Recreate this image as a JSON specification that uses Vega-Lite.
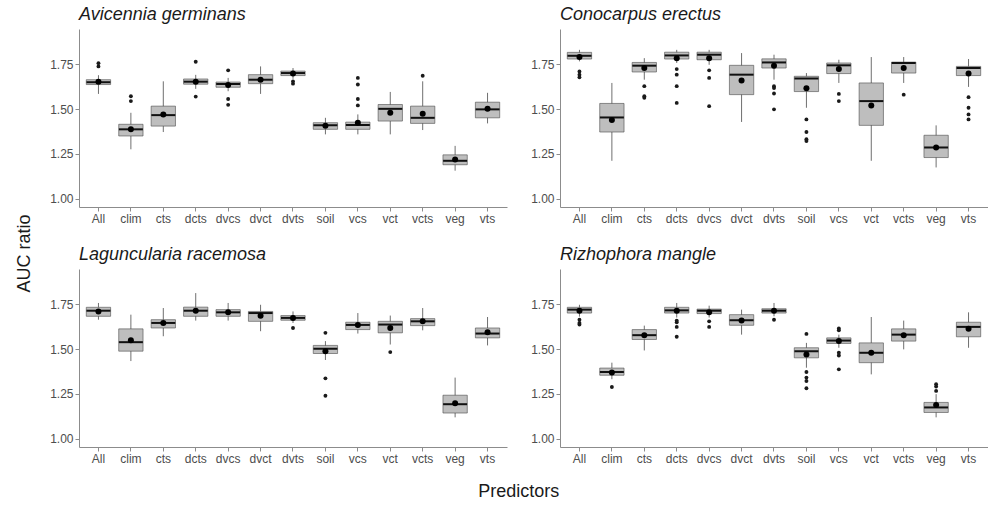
{
  "$schema": "https://vega.github.io/schema/vega-lite/v6.json",
  "background": "white",
  "padding": {"left": 15, "top": 6, "right": 0, "bottom": 0},
  "config": {
    "font": "Liberation Sans",
    "view": {"stroke": null},
    "axis": {
      "grid": false,
      "domainColor": "#8c8c8c",
      "tickColor": "#8c8c8c",
      "labelColor": "#4d4d4d",
      "labelFontSize": 12,
      "labelFont": "Liberation Sans",
      "tickSize": 4,
      "labelPadding": 2,
      "domainWidth": 1
    },
    "header": {
      "labelFont": "Liberation Sans",
      "labelFontSize": 18,
      "labelFontStyle": "italic",
      "labelColor": "#1a1a1a",
      "labelAnchor": "start",
      "labelPadding": 5
    },
    "title": {"font": "Liberation Sans", "fontSize": 18, "fontWeight": "normal", "color": "#1a1a1a"}
  },
  "data": {
    "values": [
      {"sp": "Avicennia germinans", "kind": "box", "pred": "All", "lo": 1.584, "q1": 1.636, "med": 1.649, "q3": 1.663, "hi": 1.688, "mean": 1.652},
      {"sp": "Avicennia germinans", "kind": "box", "pred": "clim", "lo": 1.276, "q1": 1.350, "med": 1.387, "q3": 1.415, "hi": 1.479, "mean": 1.387},
      {"sp": "Avicennia germinans", "kind": "box", "pred": "cts", "lo": 1.372, "q1": 1.405, "med": 1.466, "q3": 1.516, "hi": 1.654, "mean": 1.470},
      {"sp": "Avicennia germinans", "kind": "box", "pred": "dcts", "lo": 1.612, "q1": 1.638, "med": 1.652, "q3": 1.667, "hi": 1.690, "mean": 1.652},
      {"sp": "Avicennia germinans", "kind": "box", "pred": "dvcs", "lo": 1.599, "q1": 1.621, "med": 1.639, "q3": 1.650, "hi": 1.673, "mean": 1.634},
      {"sp": "Avicennia germinans", "kind": "box", "pred": "dvct", "lo": 1.584, "q1": 1.641, "med": 1.663, "q3": 1.691, "hi": 1.737, "mean": 1.663},
      {"sp": "Avicennia germinans", "kind": "box", "pred": "dvts", "lo": 1.668, "q1": 1.686, "med": 1.700, "q3": 1.711, "hi": 1.728, "mean": 1.697},
      {"sp": "Avicennia germinans", "kind": "box", "pred": "soil", "lo": 1.359, "q1": 1.387, "med": 1.409, "q3": 1.424, "hi": 1.451, "mean": 1.407},
      {"sp": "Avicennia germinans", "kind": "box", "pred": "vcs", "lo": 1.359, "q1": 1.387, "med": 1.411, "q3": 1.427, "hi": 1.470, "mean": 1.424},
      {"sp": "Avicennia germinans", "kind": "box", "pred": "vct", "lo": 1.359, "q1": 1.433, "med": 1.501, "q3": 1.525, "hi": 1.595, "mean": 1.479},
      {"sp": "Avicennia germinans", "kind": "box", "pred": "vcts", "lo": 1.383, "q1": 1.420, "med": 1.451, "q3": 1.516, "hi": 1.654, "mean": 1.474},
      {"sp": "Avicennia germinans", "kind": "box", "pred": "veg", "lo": 1.157, "q1": 1.190, "med": 1.212, "q3": 1.245, "hi": 1.295, "mean": 1.219},
      {"sp": "Avicennia germinans", "kind": "box", "pred": "vts", "lo": 1.420, "q1": 1.451, "med": 1.498, "q3": 1.538, "hi": 1.590, "mean": 1.501},
      {"sp": "Avicennia germinans", "kind": "out", "pred": "All", "out": 1.737},
      {"sp": "Avicennia germinans", "kind": "out", "pred": "All", "out": 1.755},
      {"sp": "Avicennia germinans", "kind": "out", "pred": "clim", "out": 1.544},
      {"sp": "Avicennia germinans", "kind": "out", "pred": "clim", "out": 1.571},
      {"sp": "Avicennia germinans", "kind": "out", "pred": "dcts", "out": 1.569},
      {"sp": "Avicennia germinans", "kind": "out", "pred": "dcts", "out": 1.763},
      {"sp": "Avicennia germinans", "kind": "out", "pred": "dvcs", "out": 1.523},
      {"sp": "Avicennia germinans", "kind": "out", "pred": "dvcs", "out": 1.556},
      {"sp": "Avicennia germinans", "kind": "out", "pred": "dvcs", "out": 1.715},
      {"sp": "Avicennia germinans", "kind": "out", "pred": "dvts", "out": 1.641},
      {"sp": "Avicennia germinans", "kind": "out", "pred": "dvts", "out": 1.654},
      {"sp": "Avicennia germinans", "kind": "out", "pred": "vcs", "out": 1.520},
      {"sp": "Avicennia germinans", "kind": "out", "pred": "vcs", "out": 1.556},
      {"sp": "Avicennia germinans", "kind": "out", "pred": "vcs", "out": 1.636},
      {"sp": "Avicennia germinans", "kind": "out", "pred": "vcs", "out": 1.673},
      {"sp": "Avicennia germinans", "kind": "out", "pred": "vcts", "out": 1.685},

      {"sp": "Conocarpus erectus", "kind": "box", "pred": "All", "lo": 1.765, "q1": 1.778, "med": 1.796, "q3": 1.815, "hi": 1.829, "mean": 1.789},
      {"sp": "Conocarpus erectus", "kind": "box", "pred": "clim", "lo": 1.212, "q1": 1.372, "med": 1.453, "q3": 1.531, "hi": 1.645, "mean": 1.439},
      {"sp": "Conocarpus erectus", "kind": "box", "pred": "cts", "lo": 1.663, "q1": 1.706, "med": 1.741, "q3": 1.759, "hi": 1.783, "mean": 1.728},
      {"sp": "Conocarpus erectus", "kind": "box", "pred": "dcts", "lo": 1.756, "q1": 1.778, "med": 1.798, "q3": 1.816, "hi": 1.829, "mean": 1.783},
      {"sp": "Conocarpus erectus", "kind": "box", "pred": "dvcs", "lo": 1.746, "q1": 1.774, "med": 1.802, "q3": 1.816, "hi": 1.829, "mean": 1.783},
      {"sp": "Conocarpus erectus", "kind": "box", "pred": "dvct", "lo": 1.428, "q1": 1.580, "med": 1.691, "q3": 1.743, "hi": 1.811, "mean": 1.658},
      {"sp": "Conocarpus erectus", "kind": "box", "pred": "dvts", "lo": 1.663, "q1": 1.728, "med": 1.759, "q3": 1.779, "hi": 1.802, "mean": 1.741},
      {"sp": "Conocarpus erectus", "kind": "box", "pred": "soil", "lo": 1.507, "q1": 1.597, "med": 1.669, "q3": 1.682, "hi": 1.700, "mean": 1.615},
      {"sp": "Conocarpus erectus", "kind": "box", "pred": "vcs", "lo": 1.645, "q1": 1.697, "med": 1.743, "q3": 1.756, "hi": 1.774, "mean": 1.722},
      {"sp": "Conocarpus erectus", "kind": "box", "pred": "vct", "lo": 1.212, "q1": 1.409, "med": 1.544, "q3": 1.645, "hi": 1.789, "mean": 1.520},
      {"sp": "Conocarpus erectus", "kind": "box", "pred": "vcts", "lo": 1.645, "q1": 1.700, "med": 1.756, "q3": 1.761, "hi": 1.789, "mean": 1.728},
      {"sp": "Conocarpus erectus", "kind": "box", "pred": "veg", "lo": 1.175, "q1": 1.230, "med": 1.286, "q3": 1.354, "hi": 1.409, "mean": 1.286},
      {"sp": "Conocarpus erectus", "kind": "box", "pred": "vts", "lo": 1.623, "q1": 1.686, "med": 1.728, "q3": 1.737, "hi": 1.778, "mean": 1.697},
      {"sp": "Conocarpus erectus", "kind": "out", "pred": "All", "out": 1.676},
      {"sp": "Conocarpus erectus", "kind": "out", "pred": "All", "out": 1.691},
      {"sp": "Conocarpus erectus", "kind": "out", "pred": "All", "out": 1.709},
      {"sp": "Conocarpus erectus", "kind": "out", "pred": "cts", "out": 1.562},
      {"sp": "Conocarpus erectus", "kind": "out", "pred": "cts", "out": 1.571},
      {"sp": "Conocarpus erectus", "kind": "out", "pred": "cts", "out": 1.627},
      {"sp": "Conocarpus erectus", "kind": "out", "pred": "dcts", "out": 1.534},
      {"sp": "Conocarpus erectus", "kind": "out", "pred": "dcts", "out": 1.627},
      {"sp": "Conocarpus erectus", "kind": "out", "pred": "dcts", "out": 1.691},
      {"sp": "Conocarpus erectus", "kind": "out", "pred": "dcts", "out": 1.722},
      {"sp": "Conocarpus erectus", "kind": "out", "pred": "dvcs", "out": 1.516},
      {"sp": "Conocarpus erectus", "kind": "out", "pred": "dvcs", "out": 1.673},
      {"sp": "Conocarpus erectus", "kind": "out", "pred": "dvcs", "out": 1.715},
      {"sp": "Conocarpus erectus", "kind": "out", "pred": "dvts", "out": 1.498},
      {"sp": "Conocarpus erectus", "kind": "out", "pred": "dvts", "out": 1.586},
      {"sp": "Conocarpus erectus", "kind": "out", "pred": "dvts", "out": 1.617},
      {"sp": "Conocarpus erectus", "kind": "out", "pred": "dvts", "out": 1.627},
      {"sp": "Conocarpus erectus", "kind": "out", "pred": "soil", "out": 1.322},
      {"sp": "Conocarpus erectus", "kind": "out", "pred": "soil", "out": 1.332},
      {"sp": "Conocarpus erectus", "kind": "out", "pred": "soil", "out": 1.372},
      {"sp": "Conocarpus erectus", "kind": "out", "pred": "soil", "out": 1.442},
      {"sp": "Conocarpus erectus", "kind": "out", "pred": "vcs", "out": 1.544},
      {"sp": "Conocarpus erectus", "kind": "out", "pred": "vcs", "out": 1.584},
      {"sp": "Conocarpus erectus", "kind": "out", "pred": "vcts", "out": 1.580},
      {"sp": "Conocarpus erectus", "kind": "out", "pred": "vts", "out": 1.442},
      {"sp": "Conocarpus erectus", "kind": "out", "pred": "vts", "out": 1.470},
      {"sp": "Conocarpus erectus", "kind": "out", "pred": "vts", "out": 1.507},
      {"sp": "Conocarpus erectus", "kind": "out", "pred": "vts", "out": 1.566},

      {"sp": "Laguncularia racemosa", "kind": "box", "pred": "All", "lo": 1.663, "q1": 1.682, "med": 1.713, "q3": 1.732, "hi": 1.756, "mean": 1.709},
      {"sp": "Laguncularia racemosa", "kind": "box", "pred": "clim", "lo": 1.433, "q1": 1.488, "med": 1.538, "q3": 1.612, "hi": 1.691, "mean": 1.549},
      {"sp": "Laguncularia racemosa", "kind": "box", "pred": "cts", "lo": 1.571, "q1": 1.617, "med": 1.645, "q3": 1.663, "hi": 1.728, "mean": 1.645},
      {"sp": "Laguncularia racemosa", "kind": "box", "pred": "dcts", "lo": 1.658, "q1": 1.682, "med": 1.713, "q3": 1.733, "hi": 1.811, "mean": 1.713},
      {"sp": "Laguncularia racemosa", "kind": "box", "pred": "dvcs", "lo": 1.658, "q1": 1.682, "med": 1.704, "q3": 1.719, "hi": 1.756, "mean": 1.704},
      {"sp": "Laguncularia racemosa", "kind": "box", "pred": "dvct", "lo": 1.599, "q1": 1.654, "med": 1.700, "q3": 1.709, "hi": 1.746, "mean": 1.685},
      {"sp": "Laguncularia racemosa", "kind": "box", "pred": "dvts", "lo": 1.645, "q1": 1.660, "med": 1.673, "q3": 1.686, "hi": 1.709, "mean": 1.673},
      {"sp": "Laguncularia racemosa", "kind": "box", "pred": "soil", "lo": 1.439, "q1": 1.475, "med": 1.501, "q3": 1.520, "hi": 1.544, "mean": 1.488},
      {"sp": "Laguncularia racemosa", "kind": "box", "pred": "vcs", "lo": 1.586, "q1": 1.608, "med": 1.634, "q3": 1.649, "hi": 1.700, "mean": 1.634},
      {"sp": "Laguncularia racemosa", "kind": "box", "pred": "vct", "lo": 1.525, "q1": 1.590, "med": 1.636, "q3": 1.654, "hi": 1.686, "mean": 1.617},
      {"sp": "Laguncularia racemosa", "kind": "box", "pred": "vcts", "lo": 1.604, "q1": 1.630, "med": 1.654, "q3": 1.669, "hi": 1.728, "mean": 1.654},
      {"sp": "Laguncularia racemosa", "kind": "box", "pred": "veg", "lo": 1.120, "q1": 1.144, "med": 1.193, "q3": 1.243, "hi": 1.341, "mean": 1.199},
      {"sp": "Laguncularia racemosa", "kind": "box", "pred": "vts", "lo": 1.520, "q1": 1.562, "med": 1.586, "q3": 1.617, "hi": 1.678, "mean": 1.593},
      {"sp": "Laguncularia racemosa", "kind": "out", "pred": "dvts", "out": 1.617},
      {"sp": "Laguncularia racemosa", "kind": "out", "pred": "soil", "out": 1.240},
      {"sp": "Laguncularia racemosa", "kind": "out", "pred": "soil", "out": 1.337},
      {"sp": "Laguncularia racemosa", "kind": "out", "pred": "soil", "out": 1.590},
      {"sp": "Laguncularia racemosa", "kind": "out", "pred": "vct", "out": 1.483},

      {"sp": "Rizhophora mangle", "kind": "box", "pred": "All", "lo": 1.680, "q1": 1.700, "med": 1.719, "q3": 1.732, "hi": 1.746, "mean": 1.713},
      {"sp": "Rizhophora mangle", "kind": "box", "pred": "clim", "lo": 1.332, "q1": 1.354, "med": 1.372, "q3": 1.394, "hi": 1.424, "mean": 1.369},
      {"sp": "Rizhophora mangle", "kind": "box", "pred": "cts", "lo": 1.492, "q1": 1.553, "med": 1.577, "q3": 1.608, "hi": 1.630, "mean": 1.577},
      {"sp": "Rizhophora mangle", "kind": "box", "pred": "dcts", "lo": 1.675, "q1": 1.700, "med": 1.715, "q3": 1.732, "hi": 1.756, "mean": 1.713},
      {"sp": "Rizhophora mangle", "kind": "box", "pred": "dvcs", "lo": 1.675, "q1": 1.697, "med": 1.713, "q3": 1.722, "hi": 1.741, "mean": 1.704},
      {"sp": "Rizhophora mangle", "kind": "box", "pred": "dvct", "lo": 1.580, "q1": 1.632, "med": 1.660, "q3": 1.691, "hi": 1.719, "mean": 1.658},
      {"sp": "Rizhophora mangle", "kind": "box", "pred": "dvts", "lo": 1.682, "q1": 1.700, "med": 1.713, "q3": 1.724, "hi": 1.756, "mean": 1.713},
      {"sp": "Rizhophora mangle", "kind": "box", "pred": "soil", "lo": 1.396, "q1": 1.451, "med": 1.488, "q3": 1.507, "hi": 1.534, "mean": 1.470},
      {"sp": "Rizhophora mangle", "kind": "box", "pred": "vcs", "lo": 1.507, "q1": 1.531, "med": 1.547, "q3": 1.562, "hi": 1.580, "mean": 1.544},
      {"sp": "Rizhophora mangle", "kind": "box", "pred": "vct", "lo": 1.359, "q1": 1.424, "med": 1.479, "q3": 1.534, "hi": 1.678, "mean": 1.479},
      {"sp": "Rizhophora mangle", "kind": "box", "pred": "vcts", "lo": 1.498, "q1": 1.544, "med": 1.580, "q3": 1.612, "hi": 1.658, "mean": 1.577},
      {"sp": "Rizhophora mangle", "kind": "box", "pred": "veg", "lo": 1.120, "q1": 1.147, "med": 1.175, "q3": 1.203, "hi": 1.249, "mean": 1.188},
      {"sp": "Rizhophora mangle", "kind": "box", "pred": "vts", "lo": 1.507, "q1": 1.568, "med": 1.623, "q3": 1.649, "hi": 1.704, "mean": 1.612},
      {"sp": "Rizhophora mangle", "kind": "out", "pred": "All", "out": 1.636},
      {"sp": "Rizhophora mangle", "kind": "out", "pred": "All", "out": 1.645},
      {"sp": "Rizhophora mangle", "kind": "out", "pred": "All", "out": 1.663},
      {"sp": "Rizhophora mangle", "kind": "out", "pred": "clim", "out": 1.289},
      {"sp": "Rizhophora mangle", "kind": "out", "pred": "dcts", "out": 1.568},
      {"sp": "Rizhophora mangle", "kind": "out", "pred": "dcts", "out": 1.623},
      {"sp": "Rizhophora mangle", "kind": "out", "pred": "dcts", "out": 1.649},
      {"sp": "Rizhophora mangle", "kind": "out", "pred": "dcts", "out": 1.658},
      {"sp": "Rizhophora mangle", "kind": "out", "pred": "dvcs", "out": 1.623},
      {"sp": "Rizhophora mangle", "kind": "out", "pred": "dvcs", "out": 1.654},
      {"sp": "Rizhophora mangle", "kind": "out", "pred": "dvts", "out": 1.663},
      {"sp": "Rizhophora mangle", "kind": "out", "pred": "soil", "out": 1.282},
      {"sp": "Rizhophora mangle", "kind": "out", "pred": "soil", "out": 1.322},
      {"sp": "Rizhophora mangle", "kind": "out", "pred": "soil", "out": 1.341},
      {"sp": "Rizhophora mangle", "kind": "out", "pred": "soil", "out": 1.372},
      {"sp": "Rizhophora mangle", "kind": "out", "pred": "soil", "out": 1.584},
      {"sp": "Rizhophora mangle", "kind": "out", "pred": "vcs", "out": 1.387},
      {"sp": "Rizhophora mangle", "kind": "out", "pred": "vcs", "out": 1.464},
      {"sp": "Rizhophora mangle", "kind": "out", "pred": "vcs", "out": 1.479},
      {"sp": "Rizhophora mangle", "kind": "out", "pred": "vcs", "out": 1.604},
      {"sp": "Rizhophora mangle", "kind": "out", "pred": "vcs", "out": 1.614},
      {"sp": "Rizhophora mangle", "kind": "out", "pred": "veg", "out": 1.267},
      {"sp": "Rizhophora mangle", "kind": "out", "pred": "veg", "out": 1.291},
      {"sp": "Rizhophora mangle", "kind": "out", "pred": "veg", "out": 1.304}
    ]
  },
  "title": {"text": "AUC ratio", "orient": "left", "anchor": "middle", "offset": 16},
  "hconcat": [
    {
      "title": {"text": "Predictors", "orient": "bottom", "anchor": "middle", "offset": 19},
      "facet": {"field": "sp", "type": "nominal", "title": null, "header": {"labelOrient": "top"}},
      "columns": 2,
      "spacing": {"row": 62, "column": 53},
      "bounds": "flush",
      "resolve": {"axis": {"x": "independent", "y": "independent"}},
      "spec": {
        "width": 428,
        "height": 178,
        "encoding": {
          "x": {
            "field": "pred",
            "type": "nominal",
            "sort": ["All", "clim", "cts", "dcts", "dvcs", "dvct", "dvts", "soil", "vcs", "vct", "vcts", "veg", "vts"],
            "scale": {"paddingInner": 0.25, "paddingOuter": 0.225},
            "axis": {"title": null, "labelAngle": 0}
          }
        },
        "layer": [
          {
            "transform": [{"filter": "datum.kind == 'box'"}],
            "mark": {"type": "rule", "color": "#4a4a4a", "strokeWidth": 0.8},
            "encoding": {
              "y": {"field": "lo", "type": "quantitative", "title": null,
                    "scale": {"domain": [0.955, 1.945], "nice": false, "zero": false},
                    "axis": {"title": null, "values": [1, 1.25, 1.5, 1.75], "format": ".2f"}},
              "y2": {"field": "hi"}
            }
          },
          {
            "transform": [{"filter": "datum.kind == 'box'"}],
            "mark": {"type": "bar", "fill": "#bebebe", "stroke": "#4a4a4a", "strokeWidth": 0.6},
            "encoding": {
              "y": {"field": "q1", "type": "quantitative", "title": null},
              "y2": {"field": "q3"}
            }
          },
          {
            "transform": [{"filter": "datum.kind == 'box'"}],
            "mark": {"type": "tick", "color": "#111111", "thickness": 2, "size": 24, "opacity": 1},
            "encoding": {
              "y": {"field": "med", "type": "quantitative", "title": null}
            }
          },
          {
            "transform": [{"filter": "datum.kind == 'out'"}],
            "mark": {"type": "circle", "color": "#1a1a1a", "size": 15, "opacity": 1},
            "encoding": {
              "y": {"field": "out", "type": "quantitative", "title": null}
            }
          },
          {
            "transform": [{"filter": "datum.kind == 'box'"}],
            "mark": {"type": "circle", "color": "#000000", "size": 36, "opacity": 1},
            "encoding": {
              "y": {"field": "mean", "type": "quantitative", "title": null}
            }
          }
        ]
      }
    }
  ]
}
